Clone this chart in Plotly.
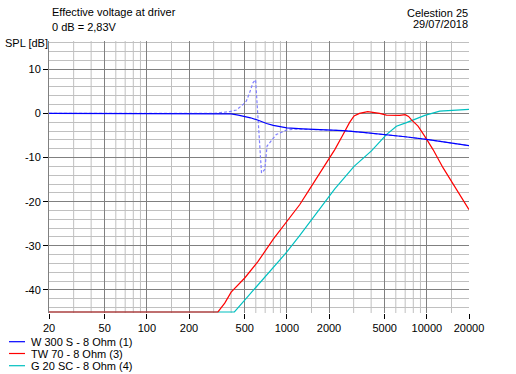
import math
import plotly.graph_objects as go

# ---------------- data ----------------
w300_freq = [20, 50, 100, 200, 300, 400, 450, 486, 550, 618, 716, 800, 890, 1000, 1300,
             2000, 2520, 3500, 5140, 7000, 9940, 14000, 20000]
w300_db = [0, 0, 0, 0, -0.05, -0.1, -0.4, -0.6, -1.0, -1.5, -2.3, -2.7, -3.0, -3.3, -3.5,
           -3.7, -3.9, -4.3, -4.8, -5.3, -5.9, -6.6, -7.3]

w300b_freq = [20, 100, 300, 391, 436, 486, 514, 542, 574, 598, 659, 696, 722, 840, 990, 1108,
              1300, 2000, 2520, 3500, 5140, 7000, 9940, 14000, 20000]
w300b_db = [0, 0, 0, 0.4, 0.75, 2.0, 2.8, 4.7, 7.0, 7.6, -13.5, -12.7, -7.4, -4.8, -3.8, -3.6,
            -3.6, -3.8, -3.9, -4.3, -4.8, -5.3, -5.9, -6.6, -7.3]

tw70_freq = [20, 322, 360, 400, 500, 621, 800, 1000, 1234, 1458, 2000, 2200, 2500, 2800, 3020,
             3300, 3780, 4600, 5140, 6400, 7000, 7400, 7740, 8650, 9670, 11070, 13040, 16240, 20000]
tw70_db = [-45, -45, -43, -40.5, -37.3, -33.6, -28.5, -24.6, -20.7, -17.1, -10.2, -8.2, -5.0, -2.1, -0.6,
           0, 0.4, 0, -0.4, -0.45, -0.3, -0.7, -1.4, -2.9, -5.2, -8.2, -12.3, -17.1, -21.8]

g20_freq = [20, 422, 500, 600, 700, 890, 1000, 1234, 1500, 2000, 2200, 3020, 3690, 4020, 5140,
            6060, 7150, 8190, 9670, 12360, 20000]
g20_db = [-45, -45, -42.3, -39.4, -37.0, -33.2, -31.4, -27.7, -24.1, -18.8, -17.1, -12.0, -9.7, -8.5, -4.8,
          -2.9, -2.1, -1.4, -0.45, 0.5, 0.9]

series_names = ["W 300 S - 8 Ohm (1)", "TW 70 - 8 Ohm (3)", "G 20 SC - 8 Ohm (4)"]
series_colors = ["#0000FF", "#FF0000", "#00C0C0"]

x_major = [20, 50, 100, 200, 500, 1000, 2000, 5000, 10000, 20000]
x_major_text = [str(v) for v in x_major]
x_minor = [30, 40, 60, 70, 80, 90, 150, 300, 400, 600, 700, 800, 900, 1500,
           3000, 4000, 6000, 7000, 8000, 9000, 15000]
y_major = [-40, -30, -20, -10, 0, 10]
y_major_text = ["-40", "-30", "-20", "-10", "0", "10"]

FONT = "Liberation Sans, Arial, sans-serif"

fig = go.Figure()

fig.add_trace(go.Scatter(x=w300b_freq, y=w300b_db, mode="lines", showlegend=False,
                         line=dict(color="#8080FF", width=1.2, dash="3px,2px")))
fig.add_trace(go.Scatter(x=g20_freq, y=g20_db, mode="lines", name=series_names[2],
                         showlegend=False, line=dict(color=series_colors[2], width=1.2)))
fig.add_trace(go.Scatter(x=tw70_freq, y=tw70_db, mode="lines", name=series_names[1],
                         showlegend=False, line=dict(color=series_colors[1], width=1.2)))
fig.add_trace(go.Scatter(x=w300_freq, y=w300_db, mode="lines", name=series_names[0],
                         showlegend=False, line=dict(color=series_colors[0], width=1.2)))

W, H = 516, 374
ML, MR, MT, MB = 49, 47, 41, 61
PW, PH = W - ML - MR, H - MT - MB


def px_x(p):
    return (p - ML) / PW


def px_y(p):
    return (H - MB - p) / PH


annotations = []
shapes = []
# header texts
annotations.append(dict(text="Effective voltage at driver", x=px_x(50), y=px_y(11.5), xref="paper",
                        yref="paper", xanchor="left", yanchor="middle", showarrow=False))
annotations.append(dict(text="0 dB = 2,83V", x=px_x(50), y=px_y(26.5), xref="paper",
                        yref="paper", xanchor="left", yanchor="middle", showarrow=False))
annotations.append(dict(text="SPL [dB]", x=px_x(3), y=px_y(43.5), xref="paper",
                        yref="paper", xanchor="left", yanchor="middle", showarrow=False))
annotations.append(dict(text="Celestion 25", x=px_x(470), y=px_y(13), xref="paper",
                        yref="paper", xanchor="right", yanchor="middle", showarrow=False))
annotations.append(dict(text="29/07/2018", x=px_x(470), y=px_y(24), xref="paper",
                        yref="paper", xanchor="right", yanchor="middle", showarrow=False))

# light minor vertical grid lines (irregular set, as in the reference)
for v in x_minor:
    shapes.append(dict(type="line", xref="x", yref="paper", x0=v, x1=v, y0=0, y1=1,
                       layer="below", line=dict(color="#C0C0C0", width=1)))

# legend (compact, as in the reference)
legend_rows = [341.7, 353.5, 365.7]
for name, color, ry in zip(series_names, series_colors, legend_rows):
    shapes.append(dict(type="line", xref="paper", yref="paper", x0=px_x(9), x1=px_x(25),
                       y0=px_y(ry), y1=px_y(ry), line=dict(color=color, width=1.2)))
    annotations.append(dict(text=name, x=px_x(29), y=px_y(ry + 0.5), xref="paper", yref="paper",
                            xanchor="left", yanchor="middle", showarrow=False))

fig.update_layout(
    width=W, height=H, autosize=False,
    margin=dict(l=ML, r=MR, t=MT, b=MB, pad=0),
    paper_bgcolor="white", plot_bgcolor="white",
    font=dict(family=FONT, size=11, color="black"),
    showlegend=False,
    annotations=annotations,
    shapes=shapes,
    xaxis=dict(
        type="log", range=[math.log10(20), math.log10(20000)],
        tickmode="array", tickvals=x_major, ticktext=x_major_text,
        ticks="outside", ticklen=5, tickcolor="black", tickwidth=1,
        showgrid=True, gridcolor="#808080", gridwidth=1,
        showline=False, zeroline=False,
        tickfont=dict(family=FONT, size=11, color="black"),
    ),
    yaxis=dict(
        range=[-45.23, 16.4],
        tickmode="array", tickvals=y_major, ticktext=y_major_text,
        ticks="outside", ticklen=5, tickcolor="black", tickwidth=1,
        showgrid=True, gridcolor="#808080", gridwidth=1,
        minor=dict(tickmode="linear", tick0=0, dtick=2, showgrid=True,
                   gridcolor="#C0C0C0", gridwidth=1, ticks=""),
        showline=True, linecolor="#808080", linewidth=1,
        zeroline=False,
        tickfont=dict(family=FONT, size=11, color="black"),
    ),
)

fig.write_html("out.html",
               config={"displayModeBar": False},
               post_script="document.body.style.margin='0';document.body.style.padding='0';")
